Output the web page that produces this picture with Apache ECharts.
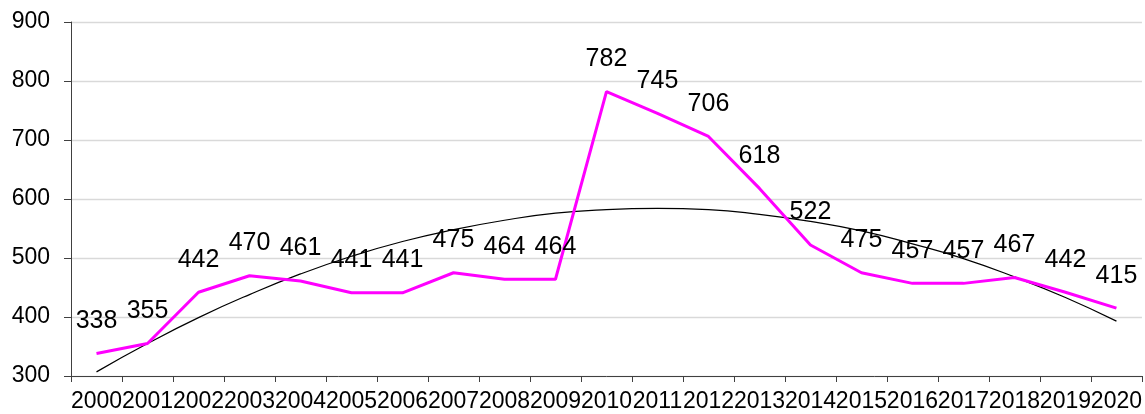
<!DOCTYPE html>
<html>
<head>
<meta charset="utf-8">
<script src="https://cdn.jsdelivr.net/npm/echarts@6/dist/echarts.min.js"></script>
<style>
html,body{margin:0;padding:0;background:#fff;}
#chart{width:1145px;height:414px;}
</style>
</head>
<body>
<div id="chart"></div>
<script>
const years = ['2000','2001','2002','2003','2004','2005','2006','2007','2008','2009','2010','2011','2012','2013','2014','2015','2016','2017','2018','2019','2020'];
const values = [338,355,442,470,461,441,441,475,464,464,782,745,706,618,522,475,457,457,467,442,415];
const trend = [307,355,399,438,473,503,528,548,564,576,582,584,582,574,562,546,524,499,468,433,393];
const yTicks = [300,400,500,600,700,800,900];

const chart = echarts.init(document.getElementById('chart'), null, {renderer:'canvas'});
chart.setOption({
  animation:false,
  backgroundColor:'#ffffff',
  grid:{left:71,right:2,top:22,bottom:38,containLabel:false},
  xAxis:{
    type:'category',
    data:years,
    boundaryGap:true,
    axisLine:{show:true,lineStyle:{color:'#404040',width:1}},
    axisTick:{show:true,length:6,interval:0,lineStyle:{color:'#404040'}},
    axisLabel:{interval:0,margin:14,color:'#000',fontSize:23,fontFamily:'Liberation Sans, Arial, sans-serif',hideOverlap:false},
    splitLine:{show:false}
  },
  yAxis:{
    type:'value',
    min:yTicks[0],max:yTicks[yTicks.length-1],interval:100,
    axisLine:{show:true,lineStyle:{color:'#404040',width:1}},
    axisTick:{show:true,length:7,lineStyle:{color:'#404040'}},
    axisLabel:{margin:21,color:'#000',fontSize:23,fontFamily:'Liberation Sans, Arial, sans-serif'},
    splitLine:{show:true,lineStyle:{color:'#d9d9d9',width:1.3}}
  },
  series:[
    {
      name:'trend',type:'line',data:trend,smooth:0.5,symbol:'none',z:2,
      lineStyle:{color:'#000',width:1.2},silent:true
    },
    {
      name:'value',type:'line',data:values,symbol:'circle',symbolSize:0,showSymbol:true,z:3,
      itemStyle:{color:'#ff00ff'},
      lineStyle:{color:'#ff00ff',width:3},
      label:{show:true,position:'top',distance:20,color:'#000',fontSize:25,fontFamily:'Liberation Sans, Arial, sans-serif'},
      labelLayout:{hideOverlap:false}
    }
  ]
});
</script>
</body>
</html>
